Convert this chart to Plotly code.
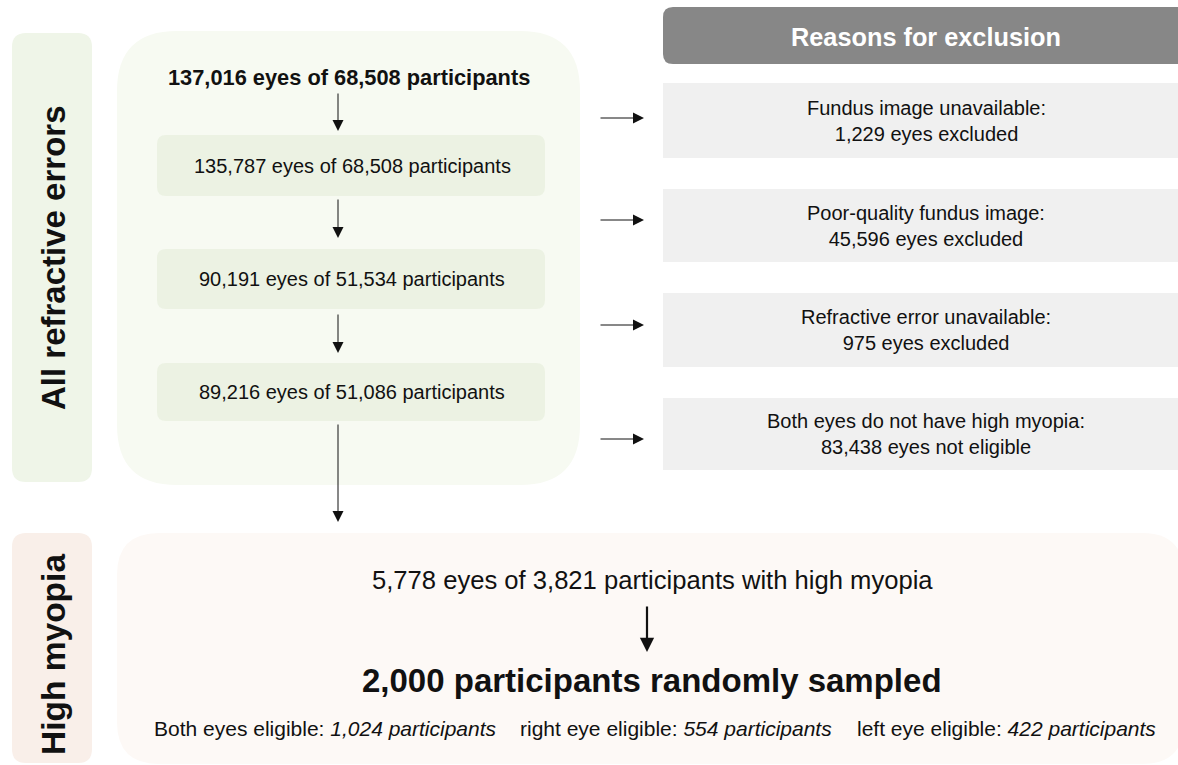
import plotly.graph_objects as go

W, H = 1178, 765

# ---- content ----
top_label = "137,016 eyes of 68,508 participants"
stage_labels = [
    "135,787 eyes of 68,508 participants",
    "90,191 eyes of 51,534 participants",
    "89,216 eyes of 51,086 participants",
]
exclusion_header = "Reasons for exclusion"
exclusion_reasons = [
    "Fundus image unavailable:",
    "Poor-quality fundus image:",
    "Refractive error unavailable:",
    "Both eyes do not have high myopia:",
]
exclusion_counts = [
    "1,229 eyes excluded",
    "45,596 eyes excluded",
    "975 eyes excluded",
    "83,438 eyes not eligible",
]
section_labels = ["All refractive errors", "High myopia"]
myopia_label = "5,778 eyes of 3,821 participants with high myopia"
sampled_label = "2,000 participants randomly sampled"
eligibility_groups = ["Both eyes eligible", "right eye eligible", "left eye eligible"]
eligibility_counts = ["1,024 participants", "554 participants", "422 participants"]

FONT = "Liberation Sans, Arial, sans-serif"


def rrect(x0, y0, x1, y1, r):
    return (f"M {x0+r},{y0} L {x1-r},{y0} Q {x1},{y0} {x1},{y0+r} "
            f"L {x1},{y1-r} Q {x1},{y1} {x1-r},{y1} L {x0+r},{y1} "
            f"Q {x0},{y1} {x0},{y1-r} L {x0},{y0+r} Q {x0},{y0} {x0+r},{y0} Z")


shapes = []
annotations = []


def box(x0, y0, x1, y1, r, color):
    shapes.append(dict(type="path", path=rrect(x0, y0, x1, y1, r),
                       fillcolor=color, line=dict(width=0), layer="below"))


def text(x, y, s, size, bold=False, color="#111111", xanchor="center", textangle=0):
    if bold:
        s = f"<b>{s}</b>"
    annotations.append(dict(x=x, y=y, text=s, showarrow=False, xref="x", yref="y",
                            xanchor=xanchor, yanchor="middle", textangle=textangle,
                            font=dict(family=FONT, size=size, color=color)))


def arrow(x0, y0, x1, y1, width=1.0, size=2.2):
    annotations.append(dict(x=x1, y=y1, ax=x0, ay=y0, xref="x", yref="y",
                            axref="x", ayref="y", text="", showarrow=True,
                            arrowhead=2, arrowsize=size, arrowwidth=width,
                            arrowcolor="#111111"))


# section label boxes
box(12, 33, 92, 482, 14, "#eff5e8")
box(12, 533, 92, 763, 14, "#f9efe9")
text(53, 258, section_labels[0], 33, bold=True, textangle=-90)
text(53, 655, section_labels[1], 33.5, bold=True, textangle=-90)

# big regions
box(117, 31, 580, 485, 60, "#f7faf2")
box(117, 533, 1184, 764, 42, "#fdf9f6")

# top flow
text(349, 77, top_label, 21.8, bold=True)
stage_y = [(135, 196), (249, 309), (363, 421)]
for (y0, y1), lab in zip(stage_y, stage_labels):
    box(157, y0, 545, y1, 9, "#ecf2e3")
    text(352, (y0 + y1) / 2, lab, 20)

arrow(338, 92, 338, 131)
arrow(338, 198, 338, 238)
arrow(338, 313, 338, 353)
arrow(338, 423, 338, 522)

# exclusion column
box(663, 7, 1210, 64, 10, "#878787")
text(926, 37, exclusion_header, 25.3, bold=True, color="white")
excl_y = [(83, 158), (189, 262), (293, 367), (398, 470)]
arrow_y = [118, 220, 325, 439]
for (y0, y1), r, c, ay in zip(excl_y, exclusion_reasons, exclusion_counts, arrow_y):
    shapes.append(dict(type="rect", x0=663, x1=1178, y0=y0, y1=y1,
                       fillcolor="#f0f0f0", line=dict(width=0), layer="below"))
    text(926, (y0 + y1) / 2, f"{r}<br>{c}", 20)
    arrow(599, ay, 644, ay)

# high myopia section
text(652, 580, myopia_label, 25.6)
arrow(647, 605, 647, 652, width=2.2, size=1.3)
text(652, 680, sampled_label, 33, bold=True)
elig_x = [152, 518, 855]
for x, g, c in zip(elig_x, eligibility_groups, eligibility_counts):
    text(x, 728, f"{g}: <i>{c}</i>", 21, xanchor="left")

fig = go.Figure()
fig.update_layout(
    width=W, height=H,
    margin=dict(l=0, r=0, t=0, b=0),
    paper_bgcolor="white", plot_bgcolor="white",
    xaxis=dict(range=[0, W], visible=False, fixedrange=True),
    yaxis=dict(range=[H, 0], visible=False, fixedrange=True),
    shapes=shapes, annotations=annotations, showlegend=False,
)
fig.write_html(
    "out.html",
    config={"displayModeBar": False},
    post_script="document.body.style.margin='0';document.body.style.overflow='hidden';",
)
